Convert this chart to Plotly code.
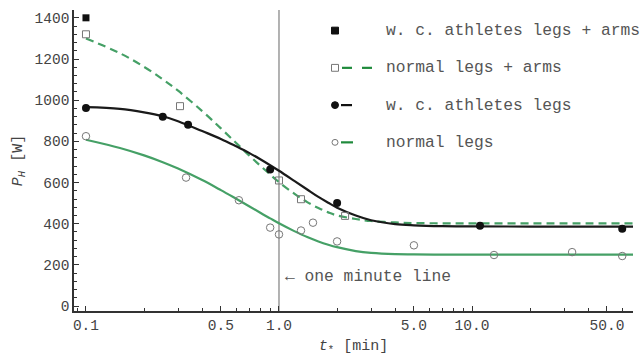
import plotly.graph_objects as go

# ---- data ----
wc_arms_t = [0.1]
wc_arms_p = [1400]

norm_arms_t = [0.1, 0.307, 1.0, 1.30, 2.2]
norm_arms_p = [1320, 971, 610, 519, 438]

wc_legs_t = [0.1, 0.25, 0.338, 0.90, 2.0, 11.0, 60.0]
wc_legs_p = [962, 919, 881, 663, 500, 390, 376]

norm_legs_t = [0.1, 0.33, 0.62, 0.90, 1.0, 1.30, 1.50, 2.0, 5.0, 13.0, 33.0, 60.0]
norm_legs_p = [825, 624, 514, 381, 348, 367, 405, 314, 295, 248, 262, 243]

curve_t = [0.1, 0.15, 0.2, 0.25, 0.3, 0.4, 0.5, 0.6, 0.7, 0.8, 0.9, 1.0,
           1.2, 1.4, 1.6, 1.8, 2.0, 2.5, 3.0, 4.0, 5.0, 7.0, 10.0, 20.0, 70.0]
fit_norm_legs = [808, 768, 732, 699, 668, 612, 563, 521, 485, 453, 426, 402,
                 364, 335, 314, 298, 286, 267, 258, 252, 251, 250, 250, 250, 250]
fit_wc_legs = [966, 958, 941, 922, 898, 850, 812, 776, 744, 713, 684, 657,
               608, 566, 530, 502, 478, 440, 417, 398, 392, 388, 387, 386, 386]
fit_norm_arms = [1300, 1228, 1162, 1101, 1046, 947, 863, 792, 732, 682, 639, 602,
                 546, 505, 476, 455, 440, 423, 413, 406, 403, 402, 402, 402, 402]

minute_t = [1, 1]
minute_p = [-24, 1438]

x_tickvals = [0.1, 0.5, 1.0, 5.0, 10.0, 50.0]
x_ticktext = ["0.1", "0.5", "1.0", "5.0", "10.0", "50.0"]

legend_labels = ["w. c. athletes legs + arms", "normal legs + arms",
                 "w. c. athletes legs", "normal legs"]

# ---- styles ----
GREEN = "#45a066"
DKGREEN = "#1f8a3c"
GRAY = "#777777"
FONT = "Liberation Mono, Courier New, monospace"

W, H = 642, 360
L, R, T, B = 74, 9, 10, 43
PW, PH = W - L - R, H - T - B


def px(x, y):
    return (x - L) / PW, (H - B - y) / PH


fig = go.Figure()

fig.add_trace(go.Scatter(x=minute_t, y=minute_p, mode="lines",
                         line=dict(color="#808080", width=1.2), showlegend=False))

fig.add_trace(go.Scatter(x=curve_t, y=fit_norm_legs, mode="lines", line_shape="spline",
                         line=dict(color=GREEN, width=2.2), showlegend=False))
fig.add_trace(go.Scatter(x=curve_t, y=fit_norm_arms, mode="lines", line_shape="spline",
                         line=dict(color=GREEN, width=2.2, dash="8px,5px"), showlegend=False))
fig.add_trace(go.Scatter(x=curve_t, y=fit_wc_legs, mode="lines", line_shape="spline",
                         line=dict(color="#1a1a1a", width=2.2), showlegend=False))

fig.add_trace(go.Scatter(x=wc_arms_t, y=wc_arms_p, mode="markers",
                         marker=dict(symbol="square", size=7, color="#111111"), showlegend=False))
fig.add_trace(go.Scatter(x=norm_arms_t, y=norm_arms_p, mode="markers",
                         marker=dict(symbol="square-open", size=7, color=GRAY, line=dict(width=1)),
                         showlegend=False))
fig.add_trace(go.Scatter(x=wc_legs_t, y=wc_legs_p, mode="markers",
                         marker=dict(symbol="circle", size=8, color="#111111"), showlegend=False))
fig.add_trace(go.Scatter(x=norm_legs_t, y=norm_legs_p, mode="markers",
                         marker=dict(symbol="circle-open", size=7.5, color=GRAY, line=dict(width=1)),
                         showlegend=False))

# ---- custom legend ----
shapes = []
annotations = []
rows_y = [31, 69, 107, 145]
for lab, ry in zip(legend_labels, rows_y):
    x0, y0 = px(384, ry)
    annotations.append(dict(x=x0, y=y0, xref="paper", yref="paper", text=lab,
                            showarrow=False, xanchor="left", yanchor="middle",
                            font=dict(family=FONT, size=16.3, color="#555555")))


def box(cx, cy, r, kind, fill, line):
    a = px(cx - r, cy + r)
    b = px(cx + r, cy - r)
    shapes.append(dict(type=kind, xref="paper", yref="paper", x0=a[0], y0=a[1], x1=b[0], y1=b[1],
                       fillcolor=fill, line=dict(color=line, width=1)))


def seg(xa, xb, cy, color):
    a = px(xa, cy)
    b = px(xb, cy)
    shapes.append(dict(type="line", xref="paper", yref="paper", x0=a[0], y0=a[1], x1=b[0], y1=b[1],
                       line=dict(color=color, width=2.2)))


box(335, 31, 3.5, "rect", "#111111", "#111111")
box(335, 69, 3.5, "rect", "rgba(0,0,0,0)", GRAY)
seg(342, 352, 69, DKGREEN)
seg(362, 372, 69, DKGREEN)
box(335, 107, 3.5, "circle", "#111111", "#111111")
seg(341, 352, 107, "#111111")
box(335, 145, 3, "circle", "rgba(0,0,0,0)", GRAY)
seg(341, 353, 145, DKGREEN)

ax, ay = px(283, 282)
annotations.append(dict(x=ax, y=ay, xref="paper", yref="paper", text="← one minute line",
                        showarrow=False, xanchor="left", yanchor="middle",
                        font=dict(family=FONT, size=16.3, color="#555555")))

fig.update_layout(
    width=W, height=H,
    margin=dict(l=L, r=R, t=T, b=B),
    paper_bgcolor="white", plot_bgcolor="white",
    showlegend=False,
    shapes=shapes, annotations=annotations,
    font=dict(family=FONT, color="#444444"),
)
fig.update_xaxes(type="log", range=[-1.062, 1.834], tickvals=x_tickvals, ticktext=x_ticktext,
                 ticks="inside", ticklen=5, tickcolor="#333333",
                 showline=True, linecolor="#333333", linewidth=1.5, showgrid=False, zeroline=False,
                 tickfont=dict(family=FONT, size=14.5, color="#444444"),
                 minor=dict(ticks="inside", ticklen=3, dtick="D1", tickcolor="#333333", showgrid=False),
                 title=dict(text="<i>t</i><sub>*</sub> [min]", font=dict(family=FONT, size=15, color="#444444"),
                            standoff=6))
fig.update_yaxes(range=[-24, 1438], tick0=0, dtick=200,
                 ticks="inside", ticklen=5, tickcolor="#333333",
                 showline=True, linecolor="#333333", linewidth=1.5, showgrid=False, zeroline=False,
                 tickfont=dict(family=FONT, size=14.5, color="#444444"),
                 minor=dict(ticks="inside", ticklen=3, dtick=40, tickcolor="#333333", showgrid=False),
                 title=dict(text="<i>P</i><sub><i>H</i></sub> [W]", font=dict(family=FONT, size=15, color="#444444"),
                            standoff=8))

fig.write_html("out.html")
